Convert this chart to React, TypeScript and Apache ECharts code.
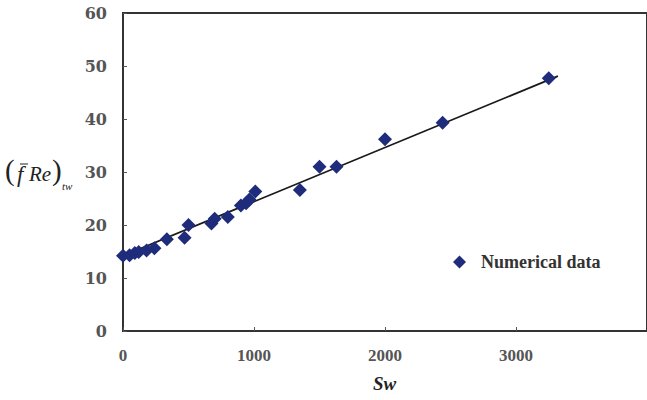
import React, { useEffect, useRef } from "react";
import * as echarts from "echarts";

const swValues = [0, 50, 90, 120, 180, 240, 335, 470, 500, 675, 700, 800, 900, 940, 965, 1010, 1350, 1500, 1630, 2000, 2440, 3250];
const fReValues = [14.2, 14.3, 14.7, 14.9, 15.2, 15.6, 17.3, 17.6, 20.0, 20.3, 21.2, 21.5, 23.7, 24.1, 24.8, 26.3, 26.6, 31.0, 31.0, 36.2, 39.3, 47.7];
const fitLineX = [0, 3320];
const fitLineY = [14.2, 48.1];
const xTicks = [0, 1000, 2000, 3000, 4000];
const yTicks = [0, 10, 20, 30, 40, 50, 60];

const NAVY = "#1f2b7b";
const TIMES = "Times New Roman";

export default function App() {
  const ref = useRef<HTMLDivElement>(null);
  useEffect(() => {
    if (!ref.current) return;
    const chart = echarts.init(ref.current, undefined, { renderer: "svg" });
    const scatterData = swValues.map((v, i) => [v, fReValues[i]]);
    const lineData = fitLineX.map((v, i) => [v, fitLineY[i]]);
    const txt = (text: string, left: number, top: number, size: number, style: string, weight: string) => ({
      type: "text",
      left,
      top,
      style: { text, fontFamily: TIMES, fontSize: size, fontStyle: style, fontWeight: weight, fill: "#222222" },
    });
    chart.setOption({
      animation: false,
      backgroundColor: "#ffffff",
      grid: {
        left: 123,
        top: 13,
        right: -9,
        bottom: 69,
        show: true,
        borderColor: "#333333",
        borderWidth: 2,
      },
      legend: {
        data: ["Numerical data"],
        left: 448,
        top: 248,
        itemWidth: 13,
        itemHeight: 13,
        icon: "diamond",
        itemStyle: { color: NAVY, opacity: 1 },
        textStyle: { fontFamily: TIMES, fontWeight: "bold", fontSize: 18, color: "#333333", padding: [0, 0, 0, 10] },
      },
      xAxis: {
        type: "value",
        min: xTicks[0],
        max: xTicks[xTicks.length - 1],
        interval: 1000,
        splitLine: { show: false },
        axisLine: { lineStyle: { color: "#333333", width: 2 } },
        axisTick: { inside: true, length: 4, lineStyle: { color: "#555555" } },
        axisLabel: {
          margin: 16,
          showMaxLabel: false,
          formatter: (v: number) => String(v),
          fontFamily: TIMES,
          fontWeight: "bold",
          fontSize: 17,
          color: "#555555",
        },
      },
      yAxis: {
        type: "value",
        min: yTicks[0],
        max: yTicks[yTicks.length - 1],
        interval: 10,
        splitLine: { show: false },
        axisLine: { lineStyle: { color: "#333333", width: 2 } },
        axisTick: { inside: true, length: 4, lineStyle: { color: "#555555" } },
        axisLabel: {
          margin: 16,
          formatter: (v: number) => String(v),
          fontFamily: "DejaVu Serif",
          fontWeight: "bold",
          fontSize: 16,
          color: "#555555",
        },
      },
      series: [
        {
          name: "fit",
          type: "line",
          data: lineData,
          symbol: "none",
          lineStyle: { color: "#1a1a1a", width: 1.8 },
          z: 2,
        },
        {
          name: "Numerical data",
          type: "scatter",
          data: scatterData,
          symbol: "diamond",
          symbolSize: 14,
          itemStyle: { color: NAVY, opacity: 1 },
          z: 3,
        },
      ],
      graphic: [
        txt("(", 5, 155, 29, "normal", "normal"),
        { type: "line", shape: { x1: 20, y1: 164, x2: 28, y2: 164 }, style: { stroke: "#222222", lineWidth: 1 } },
        txt("f", 17, 163, 23, "italic", "normal"),
        txt("Re", 29, 163, 21, "italic", "normal"),
        txt(")", 52, 155, 29, "normal", "normal"),
        txt("tw", 62, 180, 11, "italic", "normal"),
        txt("Sw", 373, 374, 19, "italic", "bold"),
      ],
    });
    return () => chart.dispose();
  }, []);
  return <div ref={ref} style={{ width: 647, height: 400, position: "fixed", left: 0, top: 0 }} />;
}
